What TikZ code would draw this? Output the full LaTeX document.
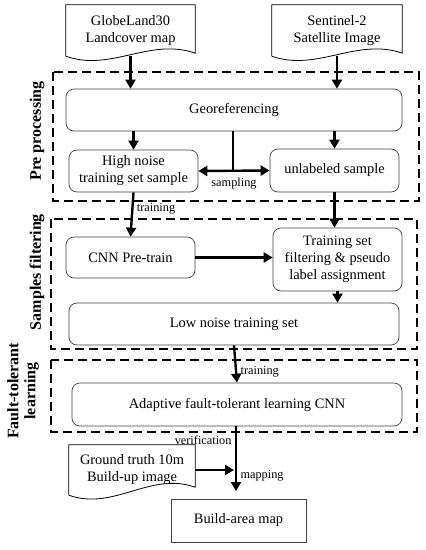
\documentclass[tikz,border=0pt]{standalone}
\usepackage{fontspec}
\setmainfont{Liberation Serif}
\usetikzlibrary{arrows.meta}

\begin{document}
\begin{tikzpicture}[x=1pt,y=1pt,every node/.style={font=\fontsize{14.4}{17}\selectfont},
arr/.style={line width=2.4pt,-{Triangle[length=9pt,width=10pt]}},
dblarr/.style={line width=2.4pt,{Triangle[length=9pt,width=10pt]}-{Triangle[length=9pt,width=10pt]}},
rbox/.style args={#1/#2}{draw=black!75,line width=0.7pt,rounded corners=8pt,minimum width=#1,minimum height=#2,inner sep=0pt,align=center},
sbox/.style args={#1/#2}{draw=black!75,line width=0.7pt,minimum width=#1,minimum height=#2,inner sep=0pt,align=center},
docu/.style args={#1/#2}{minimum width=#1,minimum height=#2,inner sep=0pt,align=center},
phase/.style={line width=1.8pt,dash pattern=on 9pt off 5pt},
lbl/.style={font=\fontsize{12.3}{14}\selectfont},
stage/.style={rotate=90,align=center,font=\bfseries\fontsize{16}{17}\selectfont}]
\useasboundingbox (0,0) rectangle (426,-550);
\draw[phase] (53,-72) rectangle (419,-201);
\draw[phase] (51,-219) rectangle (417,-349);
\draw[phase] (51,-360) rectangle (417,-432);
\node (pre) [stage] at (37,-131) {Pre processing};
\node (flt) [stage] at (37,-272) {Samples filtering};
\node (ftl) [stage] at (23,-391) {Fault-tolerant\\learning};
\node (glc) [docu=129pt/51pt] at (130.5,-30.5) {GlobeLand30\\Landcover map};
\node (s2) [docu=130pt/51pt] at (337,-30.5) {Sentinel-2\\Satellite Image};
\node (geo) [rbox=336pt/42pt] at (234,-110) {Georeferencing};
\node (hn) [rbox=129pt/42pt] at (133.5,-171) {High noise\\training set sample};
\node (unl) [rbox=129pt/43pt] at (334.5,-170.5) {unlabeled sample};
\node (cnn) [rbox=129pt/41pt] at (130.5,-257.5) {CNN Pre-train};
\node (tsf) [rbox=129pt/63pt] at (337.5,-259.5) {Training set\\filtering \& pseudo\\label assignment};
\node (low) [rbox=330pt/42pt] at (234,-324) {Low noise training set};
\node (ada) [rbox=330pt/43pt] at (237,-404.5) {Adaptive fault-tolerant learning CNN};
\node (gt) [docu=126pt/50pt] at (132,-470) {Ground truth 10m\\Build-up image};
\node (bam) [sbox=135pt/43pt] at (238.5,-520.5) {Build-area map};
\coordinate (samp) at (233,-171);
\coordinate (mapend) at (236,-491);
\foreach \d/\s in {glc/3,s2/3,gt/8}
\draw[line width=0.8pt] (\d.south west) -- (\d.north west) -- (\d.north east) -- ([yshift=\s pt]\d.south east) .. controls +(-45,16) and +(45,-16) .. (\d.south west);
\foreach \from/\to in {glc.south/glc.south|-geo.north,s2.south/s2.south|-geo.north,geo.south-|hn/hn.north,geo.south-|unl/unl.north,unl.south/unl.south|-tsf.north,cnn.east/cnn.east-|tsf.west,tsf.south/tsf.south|-low.north}
\draw[arr] (\from) -- (\to);
\draw[line width=2.4pt] (geo.south-|samp) -- (samp);
\draw[dblarr] (hn.east) -- node[lbl,below=3pt] {sampling} (unl.west);
\draw[arr] (hn.south) -- node[lbl,right,pos=0.38] {training} (cnn.north);
\draw[arr] (low.south) -- node[lbl,right,pos=0.7] {training} (ada.north);
\draw[arr] (ada.south-|mapend) -- node[lbl,left,pos=0.22] {verification} node[lbl,right,pos=0.77] {mapping} (mapend);
\draw[arr,shorten >=2pt] (gt.east) -- (gt.east-|mapend);
\end{tikzpicture}
\end{document}
